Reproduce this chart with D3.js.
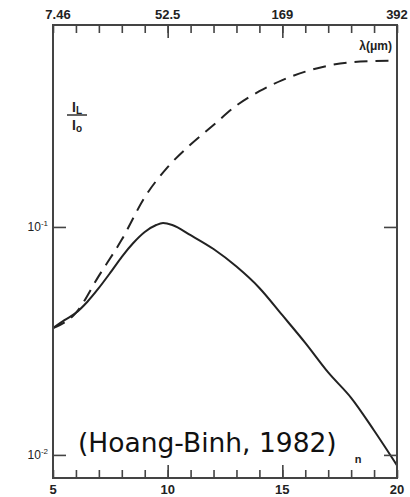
<!DOCTYPE html>
<html>
<head>
<meta charset="utf-8">
<script src="https://cdn.jsdelivr.net/npm/d3@7"></script>
<style>
  body { margin: 0; background: #fff; }
  #wrap { position: relative; width: 410px; height: 497px; }
  #wrap svg { position: absolute; left: 0; top: 0; }
</style>
</head>
<body>
<div id="wrap">
<svg id="chart" width="410" height="497"></svg>
<svg id="frame" width="410" height="497"></svg>
</div>
<script>
// data
var nTicks = [5, 6, 7, 8, 9, 10, 11, 12, 13, 14, 15, 16, 17, 18, 19, 20];
var nMajor = [10, 15];
var nLabels = [5, 10, 15, 20];
var lambdaLabels = ["7.46", "52.5", "169", "392"];
var yTicks = [0.1, 0.01];
var yLabelExp = ["-1", "-2"];

var nSolid = [5, 5.5, 6, 6.5, 7, 7.5, 8, 8.5, 9, 9.5, 9.8, 10.2, 11, 12, 13, 14, 15, 16, 17, 18, 19, 20];
var solidValues = [0.036, 0.039, 0.042, 0.047, 0.054, 0.063, 0.074, 0.085, 0.095, 0.102, 0.104, 0.102,
  0.092, 0.080, 0.067, 0.054, 0.041, 0.031, 0.023, 0.0178, 0.0128, 0.0090];

var nDashed = [5, 6, 7, 8, 9, 10, 11, 12, 13, 14, 15, 16, 17, 18, 19, 20];
var dashedValues = [0.036, 0.042, 0.061, 0.088, 0.135, 0.183, 0.230, 0.280, 0.341, 0.394,
  0.441, 0.480, 0.510, 0.528, 0.534, 0.536];

var padding = { t: 25, r: 13, b: 19, l: 53 };
var chartWidth = 410 - padding.l - padding.r;
var chartHeight = 497 - padding.t - padding.b;

var frameColor = "#444";
var inkColor = "#222";
var labelFont = "'Liberation Sans', Arial, sans-serif";

// scales
var xScale = d3.scaleLinear().domain([5, 20]).range([0, chartWidth]);
var yScale = d3.scaleLog().domain([0.00792, 0.769]).range([chartHeight, 0]);

// frame and ticks in their own svg layer
var frameSvg = d3.select("#frame");
var frameGroup = frameSvg.append("g")
  .attr("transform", `translate(${padding.l},${padding.t})`);

frameGroup.append("rect")
  .attr("width", chartWidth)
  .attr("height", chartHeight)
  .style("fill", "none")
  .style("stroke", frameColor)
  .style("stroke-width", "2px");

function styleTicks(sel) {
  sel.select(".domain").remove();
  sel.selectAll(".tick line").style("stroke", frameColor).style("stroke-width", "1.6px");
  sel.selectAll(".tick text").remove();
}

frameGroup.append("g").attr("transform", `translate(0,${chartHeight})`)
  .call(d3.axisBottom(xScale).tickValues(nTicks).tickSize(-8))
  .call(styleTicks);
frameGroup.append("g").attr("transform", `translate(0,${chartHeight})`)
  .call(d3.axisBottom(xScale).tickValues(nMajor).tickSize(-13))
  .call(styleTicks);
frameGroup.append("g")
  .call(d3.axisTop(xScale).tickValues(nTicks).tickSize(-8))
  .call(styleTicks);
frameGroup.append("g")
  .call(d3.axisTop(xScale).tickValues(nMajor).tickSize(-13))
  .call(styleTicks);
frameGroup.append("g")
  .call(d3.axisLeft(yScale).tickValues(yTicks).tickSize(-13))
  .call(styleTicks);
frameGroup.append("g").attr("transform", `translate(${chartWidth},0)`)
  .call(d3.axisRight(yScale).tickValues(yTicks).tickSize(-13))
  .call(styleTicks);

// chart layer
var svg = d3.select("#chart");
var chartGroup = svg.append("g")
  .attr("transform", `translate(${padding.l},${padding.t})`);

var lineGen = d3.line().curve(d3.curveMonotoneX);

chartGroup.append("path")
  .datum(nDashed.map((n, i) => [xScale(n), yScale(dashedValues[i])]))
  .attr("d", lineGen)
  .attr("fill", "none")
  .attr("stroke", inkColor)
  .attr("stroke-width", 2)
  .attr("stroke-dasharray", "13,8");

chartGroup.append("path")
  .datum(nSolid.map((n, i) => [xScale(n), yScale(solidValues[i])]))
  .attr("d", lineGen)
  .attr("fill", "none")
  .attr("stroke", inkColor)
  .attr("stroke-width", 2);

// tick labels
chartGroup.selectAll(".xlabel")
  .data(nLabels)
  .enter()
  .append("text")
  .attr("class", "xlabel")
  .attr("x", d => xScale(d))
  .attr("y", chartHeight + 16)
  .attr("text-anchor", "middle")
  .attr("fill", inkColor)
  .style("font-family", labelFont)
  .style("font-size", "13px")
  .style("font-weight", "bold")
  .text(d => d);

chartGroup.selectAll(".toplabel")
  .data(nLabels)
  .enter()
  .append("text")
  .attr("class", "toplabel")
  .attr("x", (d, i) => xScale(d) + (i === 0 ? 5 : 0))
  .attr("y", -6)
  .attr("text-anchor", "middle")
  .attr("fill", inkColor)
  .style("font-family", labelFont)
  .style("font-size", "13px")
  .style("font-weight", "bold")
  .text((d, i) => lambdaLabels[i]);

var ylab = chartGroup.selectAll(".ylabel")
  .data(yTicks)
  .enter()
  .append("text")
  .attr("class", "ylabel")
  .attr("x", -5)
  .attr("y", d => yScale(d) + 4)
  .attr("text-anchor", "end")
  .attr("fill", inkColor)
  .style("font-family", labelFont)
  .style("font-size", "12px")
  .text("10");
ylab.append("tspan")
  .attr("dy", -5)
  .style("font-size", "8px")
  .text((d, i) => yLabelExp[i]);

// axis titles
svg.append("text")
  .attr("x", 392)
  .attr("y", 50)
  .attr("text-anchor", "end")
  .attr("fill", inkColor)
  .style("font-family", labelFont)
  .style("font-size", "12px")
  .style("font-weight", "bold")
  .text("λ(μm)");

var frac = svg.append("g").attr("transform", "translate(77,115)");
frac.append("text").attr("y", -3).attr("text-anchor", "middle")
  .attr("fill", inkColor)
  .style("font-family", labelFont).style("font-size", "14px").style("font-weight", "bold")
  .text("I").append("tspan").attr("dy", 2).style("font-size", "10px").text("L");
frac.append("path").attr("d", "M-10,0H10")
  .attr("stroke", inkColor).attr("stroke-width", 1.4);
frac.append("text").attr("y", 15).attr("text-anchor", "middle")
  .attr("fill", inkColor)
  .style("font-family", labelFont).style("font-size", "14px").style("font-weight", "bold")
  .text("I").append("tspan").attr("dy", 2).style("font-size", "10px").text("o");

svg.append("text")
  .attr("x", 358)
  .attr("y", 463)
  .attr("text-anchor", "middle")
  .attr("fill", inkColor)
  .style("font-family", labelFont)
  .style("font-size", "11px")
  .style("font-weight", "bold")
  .text("n");

// citation
svg.append("text")
  .attr("x", 78)
  .attr("y", 452)
  .attr("fill", "#111")
  .style("font-family", "'DejaVu Sans', sans-serif")
  .style("font-size", "26.5px")
  .text("(Hoang-Binh, 1982)");
</script>
</body>
</html>
